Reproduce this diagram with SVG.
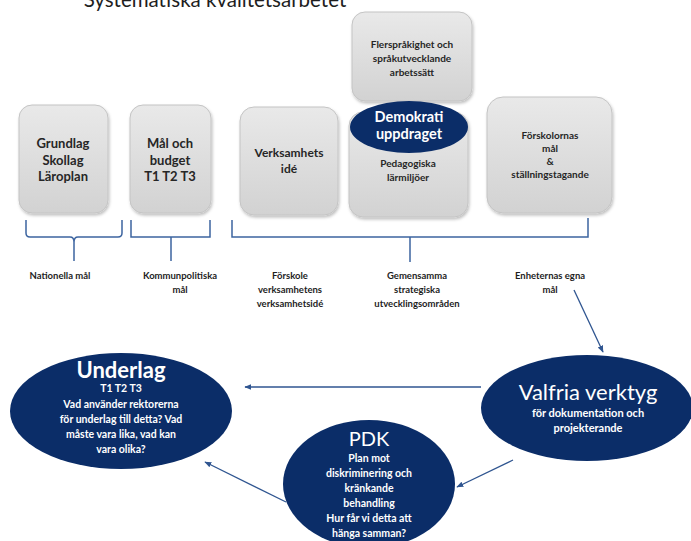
<svg xmlns="http://www.w3.org/2000/svg" width="691" height="541" viewBox="0 0 691 541">
<defs>
<linearGradient id="gbox" x1="0" y1="0" x2="0" y2="1">
<stop offset="0" stop-color="#e9e9e9"/>
<stop offset="1" stop-color="#d2d2d2"/>
</linearGradient>
<filter id="sh" x="-10%" y="-10%" width="125%" height="125%">
<feDropShadow dx="1" dy="2" stdDeviation="1.5" flood-color="#000" flood-opacity="0.25"/>
</filter>
<marker id="ah" viewBox="0 0 10 10" refX="9" refY="5" markerWidth="7" markerHeight="7" orient="auto-start-reverse" markerUnits="userSpaceOnUse">
<path d="M0,1 L10,5 L0,9 Z" fill="#2f5590"/>
</marker>
</defs>
<style>
.box{fill:url(#gbox);stroke:#c4c4c4;stroke-width:1;filter:url(#sh)}
.bt{font-family:Lato,"Liberation Sans",sans-serif;font-weight:bold;fill:#262626;text-anchor:middle}
.lbl{font-family:Lato,"Liberation Sans",sans-serif;font-weight:bold;font-size:9.5px;fill:#1e1e1e;text-anchor:middle}
.ell{fill:#0b2d68}
.wt{font-family:Lato,"Liberation Sans",sans-serif;fill:#ffffff;text-anchor:middle}
.br{fill:none;stroke:#3c64a0;stroke-width:1.5}
.ar{fill:none;stroke:#2f5590;stroke-width:1.3;marker-end:url(#ah)}
</style>
<rect width="691" height="541" fill="#ffffff"/>
<text x="215" y="7" font-family="Lato,'Liberation Sans',sans-serif" font-size="20.5" fill="#1e1e1e" text-anchor="middle">Systematiska kvalitetsarbetet</text>

<g id="n-grundlag">
<rect class="box" x="19" y="105" width="89" height="108" rx="13"/>
<text class="bt" font-size="13" x="63" y="148">Grundlag</text>
<text class="bt" font-size="13" x="63" y="165">Skollag</text>
<text class="bt" font-size="13" x="63" y="181">Läroplan</text>
</g>
<g id="n-mal">
<rect class="box" x="130" y="105" width="81" height="108" rx="13"/>
<text class="bt" font-size="13" x="170" y="148">Mål och</text>
<text class="bt" font-size="13" x="170" y="165">budget</text>
<text class="bt" font-size="13" x="170" y="181">T1 T2 T3</text>
</g>
<g id="n-verksamhet">
<rect class="box" x="240" y="107" width="98" height="108" rx="14"/>
<text class="bt" font-size="12" x="289" y="157">Verksamhets</text>
<text class="bt" font-size="12" x="289" y="173">idé</text>
</g>
<g id="n-flersprak">
<rect class="box" x="352" y="12" width="120" height="89" rx="13"/>
<text class="bt" font-size="10" x="412" y="48">Flerspråkighet och</text>
<text class="bt" font-size="10" x="412" y="62">språkutvecklande</text>
<text class="bt" font-size="10" x="412" y="76">arbetssätt</text>
</g>
<g id="n-pedagogiska">
<rect class="box" x="349" y="112" width="119" height="105" rx="14"/>
<text class="bt" font-size="10" x="408" y="167">Pedagogiska</text>
<text class="bt" font-size="10" x="408" y="181">lärmiljöer</text>
</g>
<g id="n-demokrati">
<ellipse class="ell" cx="409" cy="127" rx="59" ry="26"/>
<text class="wt" font-size="14.5" font-weight="bold" x="409" y="122">Demokrati</text>
<text class="wt" font-size="14.5" font-weight="bold" x="409" y="139">uppdraget</text>
</g>
<g id="n-forskolornas">
<rect class="box" x="487" y="97" width="125" height="116" rx="16"/>
<text class="bt" font-size="10" x="550" y="139">Förskolornas</text>
<text class="bt" font-size="10" x="550" y="152">mål</text>
<text class="bt" font-size="10" x="550" y="165">&amp;</text>
<text class="bt" font-size="10" x="550" y="178">ställningstagande</text>
</g>

<g id="brackets">
<path class="br" d="M26,220 V233 Q26,237 30,237 H70 Q74,237 74,242 V261 M74,242 Q74,237 78,237 H118 Q122,237 122,233 V220"/>
<path class="br" stroke="#2d4f8c" d="M131,220 V237 H210 V220 M171,237 V261"/>
<path class="br" stroke="#2d4f8c" d="M232,220 V237 H588 V218 M410,237 V262"/>
</g>

<g id="labels">
<text class="lbl" x="60" y="279">Nationella mål</text>
<text class="lbl" x="180" y="279">Kommunpolitiska</text>
<text class="lbl" x="180" y="293">mål</text>
<text class="lbl" x="290" y="279">Förskole</text>
<text class="lbl" x="290" y="293">verksamhetens</text>
<text class="lbl" x="290" y="307">verksamhetsidé</text>
<text class="lbl" x="417" y="279">Gemensamma</text>
<text class="lbl" x="417" y="293">strategiska</text>
<text class="lbl" x="417" y="307">utvecklingsområden</text>
<text class="lbl" x="550" y="279">Enheternas egna</text>
<text class="lbl" x="550" y="293">mål</text>
</g>

<g id="connectors">
<path class="ar" d="M574,290 L603,352"/>
<path class="ar" d="M481,387 L245,387"/>
<path class="ar" d="M513,460 L457,487"/>
<path class="ar" d="M286,502 L205,462"/>
</g>

<g id="n-valfria">
<ellipse class="ell" cx="587" cy="408" rx="106" ry="53"/>
<text class="wt" font-size="22" x="588" y="400">Valfria verktyg</text>
<text class="wt" font-size="11" font-weight="bold" x="588" y="417">för dokumentation och</text>
<text class="wt" font-size="11" font-weight="bold" x="588" y="432">projekterande</text>
</g>
<g id="n-underlag">
<ellipse class="ell" cx="121" cy="411" rx="111" ry="58"/>
<text class="wt" font-size="22" font-weight="bold" x="121" y="378">Underlag</text>
<text class="wt" font-size="10.5" font-weight="bold" x="121" y="392">T1 T2 T3</text>
<text class="wt" font-size="10.5" font-weight="bold" x="121" y="408">Vad använder rektorerna</text>
<text class="wt" font-size="10.5" font-weight="bold" x="121" y="423">för underlag till detta? Vad</text>
<text class="wt" font-size="10.5" font-weight="bold" x="121" y="438">måste vara lika, vad kan</text>
<text class="wt" font-size="10.5" font-weight="bold" x="121" y="453">vara olika?</text>
</g>
<g id="n-pdk">
<ellipse class="ell" cx="369" cy="484" rx="86" ry="64"/>
<text class="wt" font-size="20" x="369" y="446">PDK</text>
<text class="wt" font-size="10.5" font-weight="bold" x="369" y="462">Plan mot</text>
<text class="wt" font-size="10.5" font-weight="bold" x="369" y="477">diskriminering och</text>
<text class="wt" font-size="10.5" font-weight="bold" x="369" y="492">kränkande</text>
<text class="wt" font-size="10.5" font-weight="bold" x="369" y="507">behandling</text>
<text class="wt" font-size="10.5" font-weight="bold" x="369" y="522">Hur får vi detta att</text>
<text class="wt" font-size="10.5" font-weight="bold" x="369" y="537">hänga samman?</text>
</g>
</svg>
